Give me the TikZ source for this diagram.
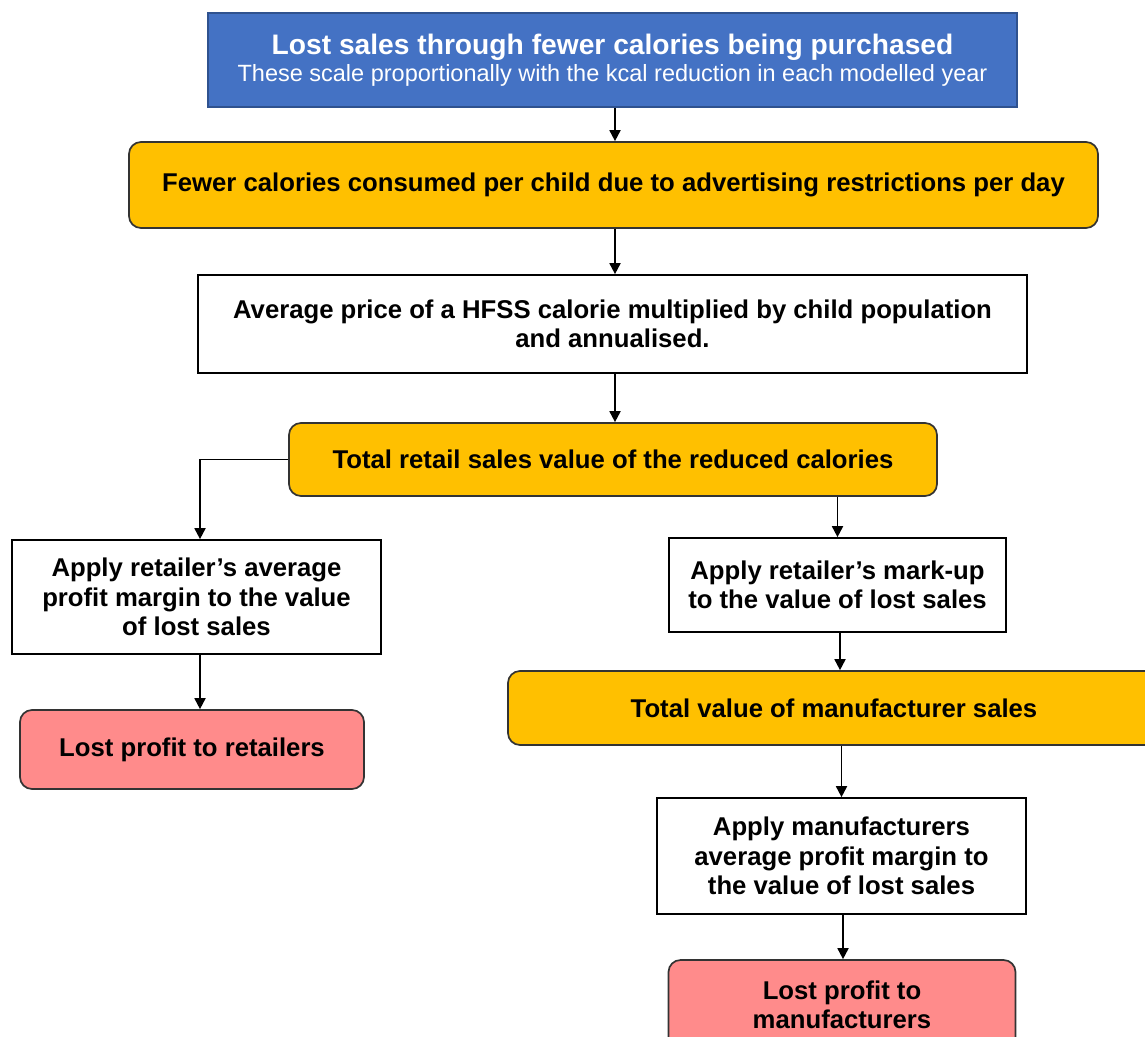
\documentclass[tikz,border=0pt]{standalone}
\usepackage{fontspec}
\setmainfont{Liberation Sans}
\usetikzlibrary{arrows.meta,calc}
\definecolor{hdrblue}{HTML}{4472C4}
\definecolor{hdredge}{HTML}{2F528F}
\definecolor{amber}{HTML}{FFC000}
\definecolor{salmon}{HTML}{FF8B8B}
\definecolor{edgegray}{HTML}{333333}
\tikzset{
  box/.style={draw=edgegray, line width=1.7pt, inner sep=0pt, align=center,
    font=\fontsize{25.7}{29.5}\selectfont\bfseries},
  header/.style={box, draw=hdredge, fill=hdrblue, text=white},
  stage/.style={box, fill=amber, rounded corners=12pt},
  calc/.style={box, draw=black, fill=white},
  result/.style={box, fill=salmon, rounded corners=12pt},
  flow/.style={line width=1.8pt, -{Triangle[length=11pt,width=11pt]}},
}
\begin{document}
\begin{tikzpicture}[x=1pt,y=-1pt]
\useasboundingbox (0,0) rectangle (1145,1036);
\clip (0,0) rectangle (1145,1036);

% header
\node[header, minimum width=809pt, minimum height=94pt] (top) at (612.5,60)
  {\fontsize{28.2}{30}\selectfont Lost sales through fewer calories being purchased\\[-3pt]
   {\fontsize{23.5}{26}\selectfont\mdseries These scale proportionally with the kcal reduction in each modelled year}};

% main column
\node[stage, minimum width=969pt, minimum height=86pt] (fewer) at (613.5,185)
  {Fewer calories consumed per child due to advertising restrictions per day};
\node[calc, minimum width=829pt, minimum height=98pt] (avg) at (612.5,324)
  {Average price of a HFSS calorie multiplied by child population\\and annualised.};
\node[stage, minimum width=648pt, minimum height=73pt] (total) at (613,459.5)
  {Total retail sales value of the reduced calories};

% retailer branch
\node[calc, minimum width=369pt, minimum height=114pt] (applyL) at (196.5,597)
  {Apply retailer’s average\\profit margin to the value\\of lost sales};
\node[result, minimum width=344pt, minimum height=79pt] (lostR) at (192,749.5)
  {Lost profit to retailers};

% manufacturer branch
\node[calc, minimum width=337pt, minimum height=94pt] (applyR) at (837.5,585)
  {Apply retailer’s mark-up\\to the value of lost sales};
\node[stage, minimum width=652pt, minimum height=74pt] (manuf) at (834,708)
  {Total value of manufacturer sales};
\node[calc, minimum width=369pt, minimum height=116pt] (applyM) at (841.5,856)
  {Apply manufacturers\\average profit margin to\\the value of lost sales};
\node[result, minimum width=347pt, minimum height=90pt] (lostM) at (842,1005)
  {Lost profit to\\manufacturers};

% connectors
\draw[flow] ($(top.south)+(2.5,0)$) -- ($(top.south |- fewer.north)+(2.5,0)$);
\draw[flow] ($(fewer.south)+(1.5,0)$) -- ($(fewer.south |- avg.north)+(1.5,0)$);
\draw[flow] ($(avg.south)+(2.5,0)$) -- ($(avg.south |- total.north)+(2.5,0)$);
\draw[flow] (total.west) -| ($(applyL.north)+(3.5,0)$);
\draw[flow] (total.south -| applyR.north) -- (applyR.north);
\draw[flow] ($(applyL.south)+(3.5,0)$) -- ($(applyL.south |- lostR.north)+(3.5,0)$);
\draw[flow] ($(applyR.south)+(2.5,0)$) -- ($(applyR.south |- manuf.north)+(2.5,0)$);
\draw[flow] (manuf.south -| applyM.north) -- (applyM.north);
\draw[flow] ($(applyM.south)+(1.5,0)$) -- ($(applyM.south |- lostM.north)+(1.5,0)$);
\end{tikzpicture}
\end{document}
